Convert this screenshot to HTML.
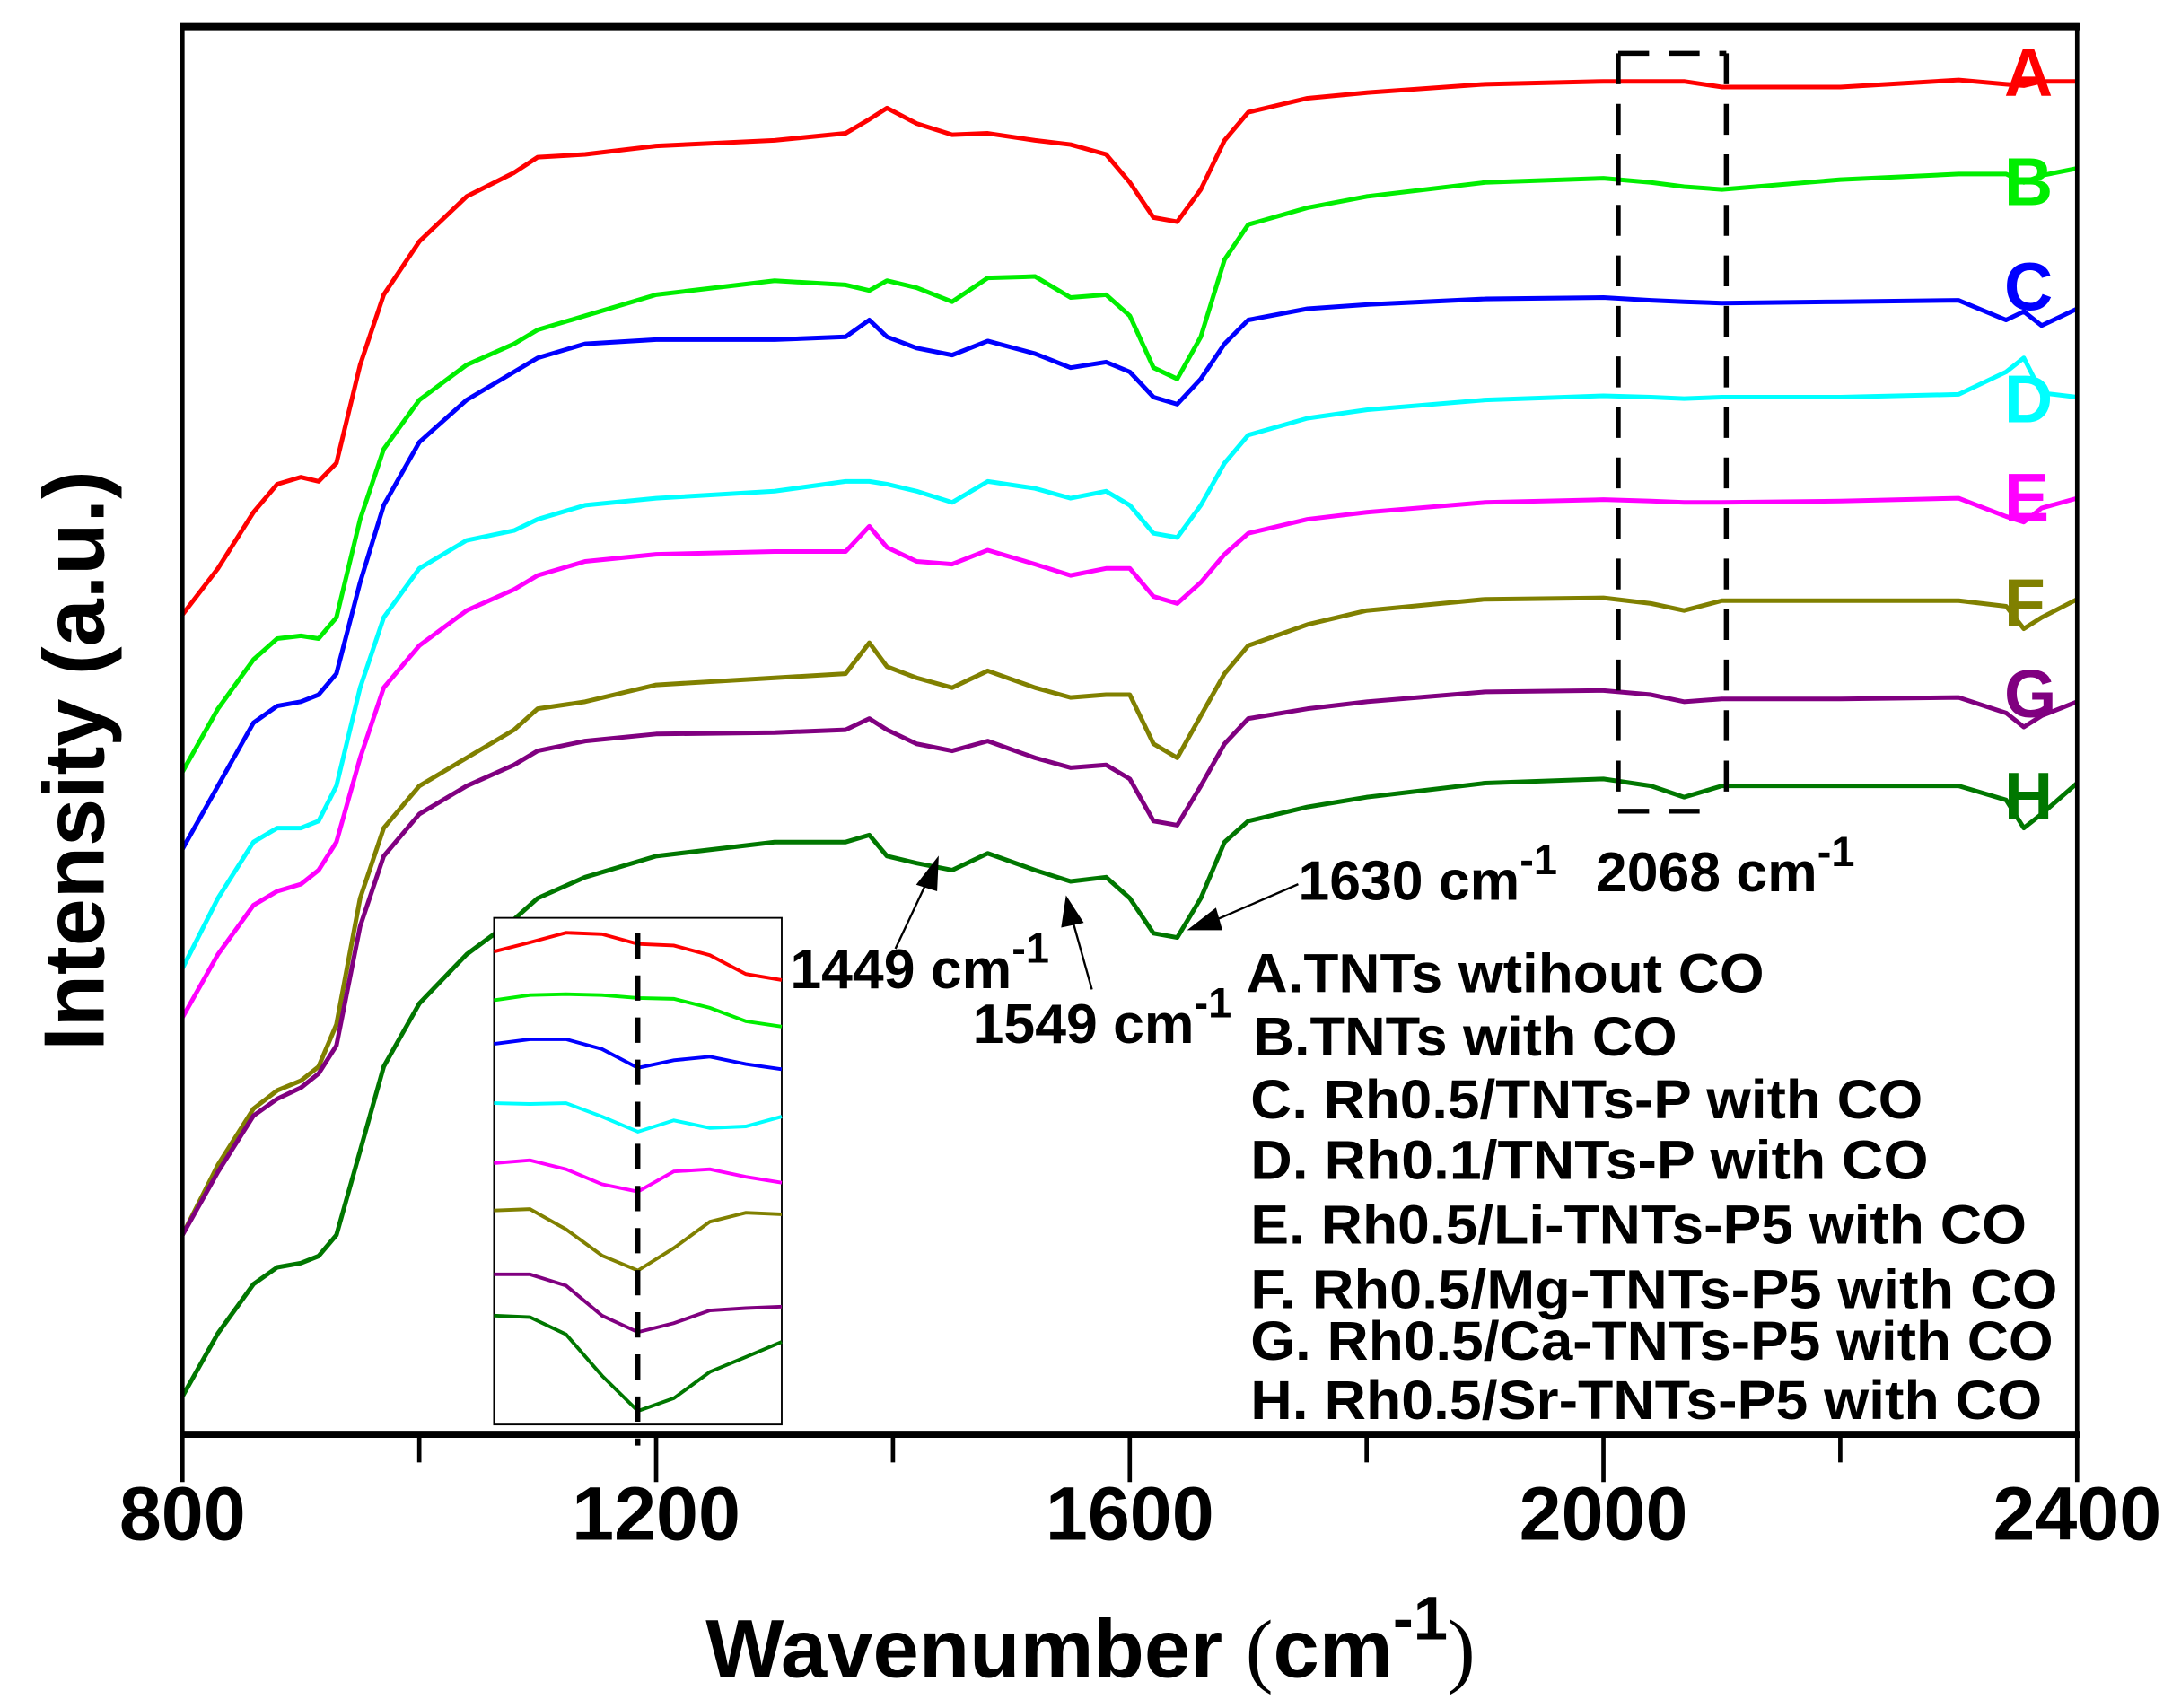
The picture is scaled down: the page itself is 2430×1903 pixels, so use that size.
<!DOCTYPE html>
<html><head><meta charset="utf-8"><style>
html,body{margin:0;padding:0;background:#fff}
svg{display:block}
text{font-family:"Liberation Sans",Arial,sans-serif;font-weight:bold}
</style></head><body>
<svg id="chart" xmlns="http://www.w3.org/2000/svg" width="2430" height="1903" viewBox="0 0 1554 1217" preserveAspectRatio="none">
<rect x="0" y="0" width="1554" height="1217" fill="#fff"/>
<g id="series"></g>
<g id="inset"></g>
<rect x="130" y="18" width="1350" height="1004" fill="none" stroke="#000" stroke-width="3"/>
<line x1="128" y1="1022" x2="1482" y2="1022" stroke="#000" stroke-width="5"/>
<line x1="128" y1="19" x2="1482" y2="19" stroke="#000" stroke-width="5"/>
<g id="xaxis"></g>
<g id="annot">
  <path d="M1153,38 V578 M1153,38 H1230 M1153,578 H1215 M1230,38 V578" fill="none" stroke="#000" stroke-width="3.5" stroke-dasharray="22,14"/>
  <text x="925" y="641" font-size="40">1630 cm<tspan dy="-18" font-size="30">-1</tspan></text>
  <text x="1137" y="635" font-size="40">2068 cm<tspan dy="-18" font-size="30">-1</tspan></text>
  <text x="563" y="704" font-size="40">1449 cm<tspan dy="-18" font-size="30">-1</tspan></text>
  <text x="693" y="743" font-size="40">1549 cm<tspan dy="-18" font-size="30">-1</tspan></text>
  <g stroke="#000" stroke-width="1.5" fill="#000">
    <line x1="638" y1="676" x2="662" y2="625"/>
    <polygon points="668,612 654,630 667,634"/>
    <line x1="778" y1="705" x2="764" y2="655"/>
    <polygon points="760,640 757,660 771,657"/>
    <line x1="925" y1="630" x2="865" y2="656"/>
    <polygon points="848,662 866,648 870,662"/>
  </g>
</g>
<g id="legend" font-size="39">
  <text x="888" y="707" textLength="369" lengthAdjust="spacingAndGlyphs">A.TNTs wtihout CO</text>
  <text x="893" y="752" textLength="302" lengthAdjust="spacingAndGlyphs">B.TNTs with CO</text>
  <text x="891" y="797" textLength="479" lengthAdjust="spacingAndGlyphs">C. Rh0.5/TNTs-P with CO</text>
  <text x="891" y="840" textLength="483" lengthAdjust="spacingAndGlyphs">D. Rh0.1/TNTs-P with CO</text>
  <text x="891" y="886" textLength="553" lengthAdjust="spacingAndGlyphs">E. Rh0.5/Li-TNTs-P5 with CO</text>
  <text x="891" y="932" textLength="575" lengthAdjust="spacingAndGlyphs">F. Rh0.5/Mg-TNTs-P5 with CO</text>
  <text x="891" y="969" textLength="572" lengthAdjust="spacingAndGlyphs">G. Rh0.5/Ca-TNTs-P5 with CO</text>
  <text x="891" y="1011" textLength="564" lengthAdjust="spacingAndGlyphs">H. Rh0.5/Sr-TNTs-P5 with CO</text>
</g>
<text x="777" y="1195" font-size="59" text-anchor="middle">Wavenumber <tspan font-weight="normal" font-family="Liberation Serif">(</tspan>cm<tspan dy="-27" font-size="44">-1</tspan><tspan dy="27" font-weight="normal" font-family="Liberation Serif">)</tspan></text>
<text transform="translate(74,542) rotate(-90)" font-size="61" text-anchor="middle">Intensity (a.u.)</text>
</svg>
<script>
const wavenumbers=[800,830,860,880,900,915,930,950,970,1000,1040,1080,1100,1140,1200,1300,1360,1380,1395,1420,1450,1480,1520,1550,1580,1600,1620,1640,1660,1680,1700,1750,1800,1900,2000,2040,2068,2100,2200,2300,2340,2355,2370,2400];
const seriesA=[58.4,61.7,65.7,67.7,68.2,67.9,69.2,76.2,81.2,85.0,88.2,89.9,91.0,91.2,91.8,92.2,92.7,93.7,94.5,93.4,92.6,92.7,92.2,91.9,91.2,89.2,86.7,86.4,88.7,92.2,94.2,95.2,95.6,96.2,96.4,96.4,96.4,96.0,96.0,96.5,96.2,96.1,96.4,96.4];
const seriesB=[47.2,51.7,55.2,56.7,56.9,56.7,58.2,65.2,70.2,73.7,76.2,77.7,78.7,79.7,81.2,82.2,81.9,81.5,82.2,81.7,80.7,82.4,82.5,81.0,81.2,79.7,76.0,75.2,78.2,83.7,86.2,87.4,88.2,89.2,89.5,89.2,88.9,88.7,89.4,89.8,89.8,89.2,89.7,90.2];
const seriesC=[41.7,46.2,50.7,51.9,52.2,52.7,54.2,60.7,66.2,70.7,73.7,75.7,76.7,77.7,78.0,78.0,78.2,79.4,78.2,77.4,76.9,77.9,77.0,76.0,76.4,75.7,73.9,73.4,75.2,77.7,79.4,80.2,80.5,80.9,81.0,80.8,80.7,80.6,80.7,80.8,79.4,80.0,79.0,80.2];
const seriesD=[33.2,38.2,42.2,43.2,43.2,43.7,46.2,53.2,58.2,61.7,63.7,64.4,65.2,66.2,66.7,67.2,67.9,67.9,67.7,67.2,66.4,67.9,67.4,66.7,67.2,66.2,64.2,63.9,66.2,69.2,71.2,72.4,73.0,73.7,74.0,73.9,73.8,73.9,73.9,74.1,75.7,76.7,74.2,73.9];
const seriesE=[29.7,34.2,37.7,38.7,39.2,40.2,42.2,48.2,53.2,56.2,58.7,60.2,61.2,62.2,62.7,62.9,62.9,64.7,63.2,62.2,62.0,63.0,62.0,61.2,61.7,61.7,59.7,59.2,60.7,62.7,64.2,65.2,65.7,66.4,66.6,66.5,66.4,66.4,66.5,66.7,65.4,65.0,66.0,66.7];
const seriesF=[14.2,19.2,23.2,24.5,25.2,26.2,29.2,38.2,43.2,46.2,48.2,50.2,51.7,52.2,53.4,53.9,54.2,56.4,54.7,53.9,53.2,54.4,53.2,52.5,52.7,52.7,49.2,48.2,51.2,54.2,56.2,57.7,58.7,59.5,59.6,59.2,58.7,59.4,59.4,59.4,59.0,57.4,58.2,59.5];
const seriesG=[14.2,18.7,22.7,23.9,24.7,25.7,27.7,36.2,41.2,44.2,46.2,47.7,48.7,49.4,49.9,50.0,50.2,51.0,50.2,49.2,48.7,49.4,48.2,47.5,47.7,46.7,43.7,43.4,46.2,49.2,51.0,51.7,52.2,52.9,53.0,52.7,52.2,52.4,52.4,52.5,51.4,50.4,51.2,52.2];
const seriesH=[2.7,7.2,10.7,11.9,12.2,12.7,14.2,20.2,26.2,30.7,34.2,36.7,38.2,39.7,41.2,42.2,42.2,42.7,41.2,40.7,40.2,41.4,40.2,39.4,39.7,38.2,35.7,35.4,38.2,42.2,43.7,44.7,45.4,46.4,46.7,46.2,45.4,46.2,46.2,46.2,45.2,43.2,44.2,46.4];
const seriesLabels=["A","B","C","D","E","F","G","H"];
const xTicks=[800,1200,1600,2000,2400];
const xMinorTicks=[1000,1400,1800,2200];
const insetWavenumbers=[2028,2038,2048,2058,2068,2078,2088,2098,2108];
const insetA=[63.0,64.2,65.5,65.3,64.0,63.8,62.5,60.0,59.2];
const insetB=[56.5,57.2,57.3,57.2,56.8,56.7,55.5,53.7,53.0];
const insetC=[50.7,51.3,51.3,50.0,47.5,48.5,49.0,48.0,47.3];
const insetD=[42.8,42.7,42.8,41.0,39.0,40.5,39.5,39.7,41.0];
const insetE=[34.8,35.2,34.0,32.0,31.0,33.7,34.0,33.0,32.2];
const insetF=[28.5,28.7,26.0,22.5,20.5,23.5,27.0,28.2,28.0];
const insetG=[20.0,20.0,18.5,14.5,12.3,13.5,15.2,15.5,15.7];
const insetH=[14.5,14.3,12.0,6.5,1.8,3.5,7.0,9.0,11.0];

const NS="http://www.w3.org/2000/svg";
const colors=["#ff0000","#00ee00","#0000ff","#00ffff","#ff00ff","#808000","#800080","#007700"];
const labelY=[68,146,221,301,371,446,511,584];
const X=v=>130+(v-800)/1600*1350;
const Y=v=>1022-v*10;
const all=[seriesA,seriesB,seriesC,seriesD,seriesE,seriesF,seriesG,seriesH];
const g=document.getElementById('series');
all.forEach((s,i)=>{
  const p=document.createElementNS(NS,'polyline');
  p.setAttribute('points',s.map((v,j)=>X(wavenumbers[j]).toFixed(1)+','+Y(v).toFixed(1)).join(' '));
  p.setAttribute('fill','none');p.setAttribute('stroke',colors[i]);p.setAttribute('stroke-width','3.2');p.setAttribute('stroke-linejoin','round');
  
  
  g.appendChild(p);
  const t=document.createElementNS(NS,'text');
  t.setAttribute('x','1428');t.setAttribute('y',labelY[i]);t.setAttribute('font-size','48');t.setAttribute('fill',colors[i]);
  t.textContent=seriesLabels[i];
  
  
  g.appendChild(t);
});
const xa=document.getElementById('xaxis');
xTicks.forEach(v=>{
  const l=document.createElementNS(NS,'line');
  l.setAttribute('x1',X(v));l.setAttribute('x2',X(v));l.setAttribute('y1',1022);l.setAttribute('y2',1056);l.setAttribute('stroke','#000');l.setAttribute('stroke-width','3');
  
  
  xa.appendChild(l);
  const t=document.createElementNS(NS,'text');
  t.setAttribute('x',X(v));t.setAttribute('y',1097);t.setAttribute('font-size','54');t.setAttribute('text-anchor','middle');
  t.textContent=v;
  
  
  xa.appendChild(t);
});
xMinorTicks.forEach(v=>{
  const l=document.createElementNS(NS,'line');
  l.setAttribute('x1',X(v));l.setAttribute('x2',X(v));l.setAttribute('y1',1022);l.setAttribute('y2',1042);l.setAttribute('stroke','#000');l.setAttribute('stroke-width','3');
  
  
  xa.appendChild(l);
});
const ig=document.getElementById('inset');
const IX=v=>352+(v-2028)/80*205;
const IY=v=>1015-v*5.35;
const box=document.createElementNS(NS,'rect');
box.setAttribute('x',352);box.setAttribute('y',654);box.setAttribute('width',205);box.setAttribute('height',361);box.setAttribute('fill','#fff');box.setAttribute('stroke','#000');box.setAttribute('stroke-width','1.2');


ig.appendChild(box);
[insetA,insetB,insetC,insetD,insetE,insetF,insetG,insetH].forEach((s,i)=>{
  const p=document.createElementNS(NS,'polyline');
  p.setAttribute('points',s.map((v,j)=>IX(insetWavenumbers[j]).toFixed(1)+','+IY(v).toFixed(1)).join(' '));
  p.setAttribute('fill','none');p.setAttribute('stroke',colors[i]);p.setAttribute('stroke-width','2.5');
  
  
  ig.appendChild(p);
});
const dl=document.createElementNS(NS,'line');
dl.setAttribute('x1',IX(2068));dl.setAttribute('x2',IX(2068));dl.setAttribute('y1',665);dl.setAttribute('y2',1030);dl.setAttribute('stroke','#000');dl.setAttribute('stroke-width','3.5');dl.setAttribute('stroke-dasharray','18,12');


ig.appendChild(dl);
</script>
</body></html>
